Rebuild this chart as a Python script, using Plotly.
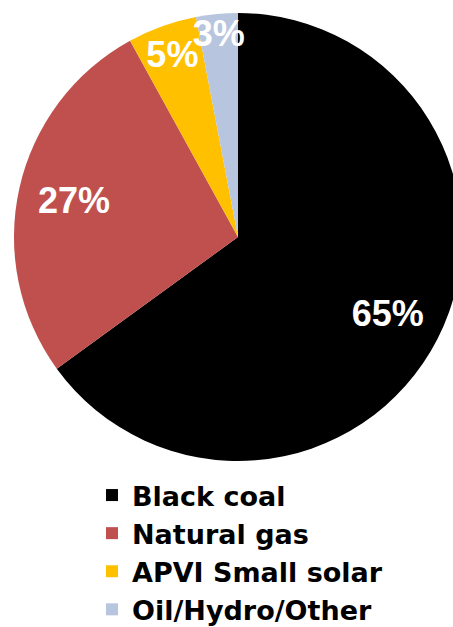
import plotly.graph_objects as go

categories = ["Black coal", "Natural gas", "APVI Small solar", "Oil/Hydro/Other"]
shares = [65, 27, 5, 3]
colors = ["#000000", "#C0504D", "#FFC000", "#B8C5DE"]

W, H = 476, 627
cx, cy, r = 238, 237, 224
dom = dict(x=[(cx - r) / W, (cx + r) / W], y=[(H - cy - r) / H, (H - cy + r) / H])

fig = go.Figure()
# filled pie (slices + legend)
fig.add_trace(
    go.Pie(
        labels=categories,
        values=shares,
        sort=False,
        direction="clockwise",
        rotation=0,
        marker=dict(colors=colors, line=dict(width=0)),
        textinfo="none",
        domain=dom,
        hoverinfo="label+percent",
    )
)
# transparent ring overlay carrying the percentage labels at ~3/4 radius
fig.add_trace(
    go.Pie(
        labels=categories,
        values=shares,
        sort=False,
        direction="clockwise",
        rotation=0,
        hole=0.5,
        marker=dict(colors=["rgba(0,0,0,0)"] * len(shares), line=dict(width=0)),
        texttemplate="%{percent:.0%}",
        textposition="inside",
        insidetextorientation="horizontal",
        textfont=dict(family="Liberation Sans, Arial", size=36, color="white", weight=700),
        domain=dom,
        showlegend=False,
        hoverinfo="skip",
    )
)

fig.update_layout(
    width=W,
    height=H,
    margin=dict(l=0, r=0, t=0, b=0, autoexpand=False),
    paper_bgcolor="white",
    plot_bgcolor="white",
    uniformtext=dict(minsize=36, mode="show"),
    showlegend=True,
    legend=dict(
        orientation="v",
        x=92 / W,
        xanchor="left",
        y=1 - 471 / H,
        yanchor="top",
        font=dict(family="DejaVu Sans", size=27, color="black", weight=700),
        bgcolor="rgba(0,0,0,0)",
    ),
)

fig.write_html(
    "out.html",
    config={"displayModeBar": False},
    post_script="document.body.style.margin='0';document.body.style.overflow='hidden';document.documentElement.style.overflow='hidden';",
)
